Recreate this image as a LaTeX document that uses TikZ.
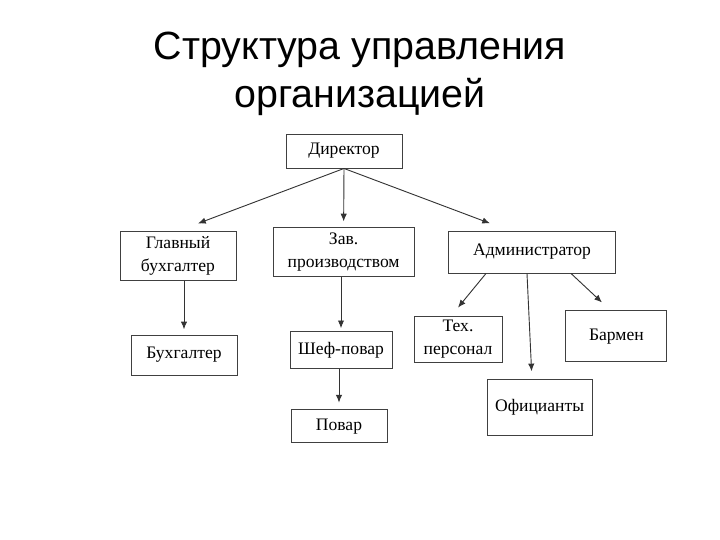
\documentclass[tikz,border=0pt]{standalone}
\usepackage{fontspec}
\setmainfont{Liberation Serif}
\newfontfamily\titlefont{Liberation Sans}
\usetikzlibrary{arrows.meta}
\usetikzlibrary{calc}

\begin{document}
\begin{tikzpicture}[>/.tip={Latex[length=5.5pt,width=4.5pt]},
	orgbox/.style={draw=black!75,line width=0.65pt,align=center,inner sep=0pt,font=\fontsize{12.5}{16.5}\selectfont},
	link/.style={->,draw=black!80,line width=0.65pt}]
	\fill[white] (0,0) rectangle (18,-13.5);
	\useasboundingbox (0,0) rectangle (18,-13.5);
	\draw (9,-1.84) node (title) [align=center,font=\titlefont\fontsize{28}{34}\selectfont] {Структура управления\\организацией};
	
	\draw (8.6,-3.775) node (dir) [orgbox,minimum width=2.9cm,minimum height=0.85cm] {Директор};
	\draw (4.45,-6.39) node (glav) [orgbox,minimum width=2.9cm,minimum height=1.225cm] {Главный\\бухгалтер};
	\draw (8.59,-6.31) node (zav) [orgbox,minimum width=3.525cm,minimum height=1.225cm] {Зав.\\производством};
	\draw (13.3,-6.3) node (adm) [orgbox,minimum width=4.175cm,minimum height=1.05cm] {Администратор};
	\draw (4.6,-8.875) node (buh) [orgbox,minimum width=2.65cm,minimum height=1cm] {Бухгалтер};
	\draw (8.525,-8.76) node (shef) [orgbox,minimum width=2.55cm,minimum height=0.925cm] {Шеф-повар};
	\draw (8.475,-10.66) node (povar) [orgbox,minimum width=2.4cm,minimum height=0.825cm] {Повар};
	\draw (11.45,-8.475) node (teh) [orgbox,minimum width=2.2cm,minimum height=1.15cm] {Тех.\\персонал};
	\draw (15.41,-8.41) node (barmen) [orgbox,minimum width=2.525cm,minimum height=1.275cm] {Бармен};
	\draw (13.49,-10.175) node (ofic) [orgbox,minimum width=2.625cm,minimum height=1.4cm] {Официанты};
	
	\draw[link] (dir.south) -- ($(glav.north)+(0.5,0.18)$);
	\draw[link,shorten >=0.15cm] (dir.south) -- (zav.north);
	\draw[link] (dir.south) -- ($(adm.north)+(-1.05,0.18)$);
	\draw[link,shorten >=0.13cm] (buh.north |- glav.south) -- (buh.north);
	\draw[link,shorten >=0.08cm] (shef.north |- zav.south) -- (shef.north);
	\draw[link,shorten >=0.17cm] (povar.north |- shef.south) -- (povar.north);
	\draw[link] ($(adm.south)+(-1.15,0)$) -- ($(teh.north)+(0,0.2)$);
	\draw[link] ($(adm.south)+(-0.125,0)$) -- ($(ofic.north)+(-0.2,0.18)$);
	\draw[link] ($(adm.south)+(0.975,0)$) -- ($(barmen.north)+(-0.36,0.2)$);
\end{tikzpicture}
\end{document}
